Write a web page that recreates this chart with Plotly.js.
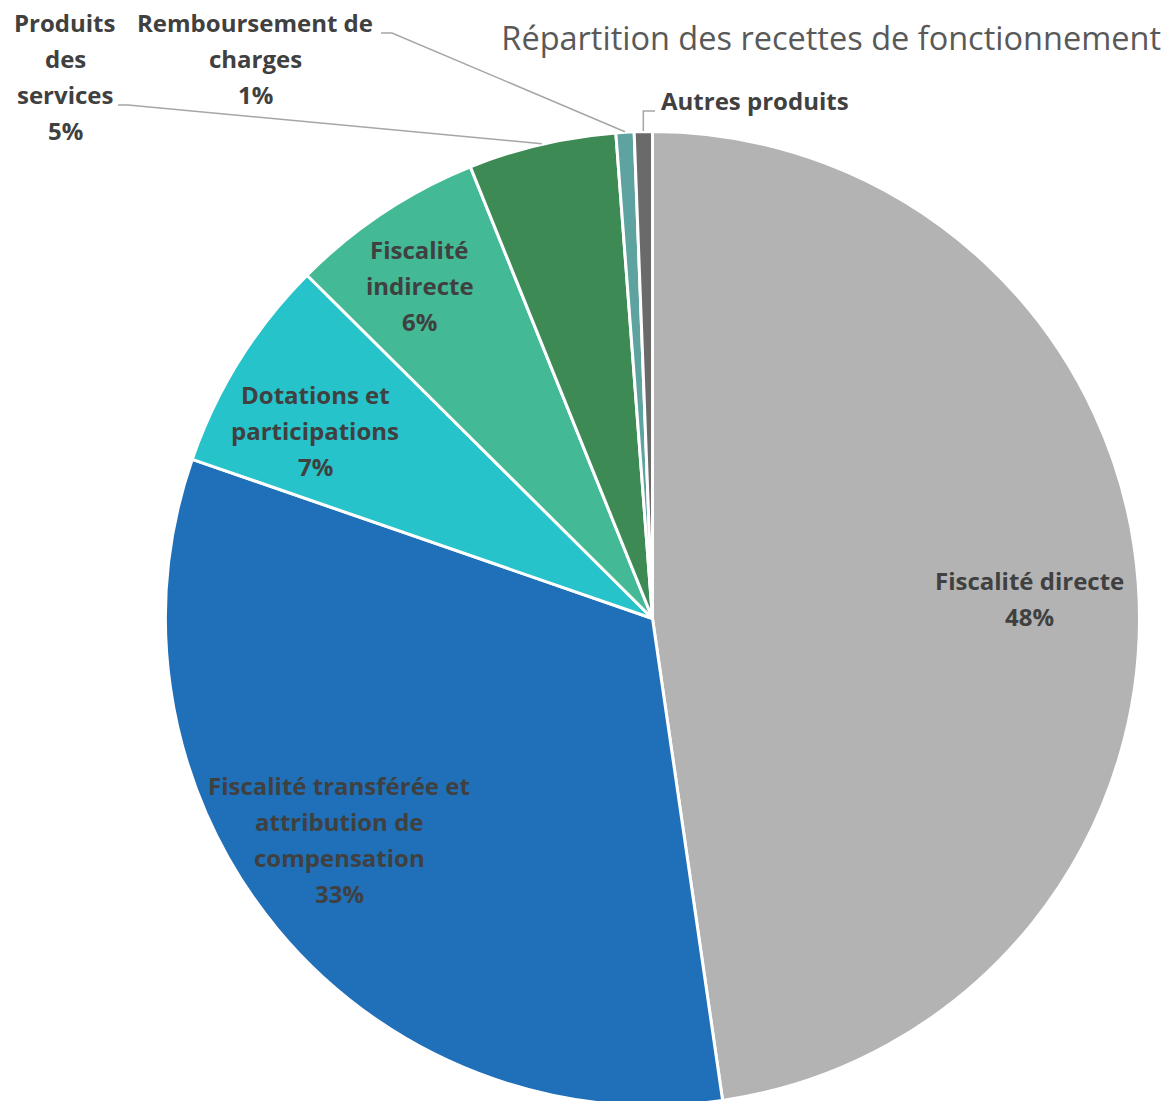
<!DOCTYPE html>
<html>
<head>
<meta charset="utf-8">
<script src="https://cdn.plot.ly/plotly-3.0.1.min.js"></script>
<style>
html,body{margin:0;padding:0;background:#fff;overflow:hidden;}
#wrap{width:1171px;height:1101px;overflow:hidden;}
#chart{width:1171px;height:1106px;}
</style>
</head>
<body>
<div id="wrap"><div id="chart"></div></div>
<script>
// ---- data ----
const categories = [
  "Fiscalité directe",
  "Fiscalité transférée et attribution de compensation",
  "Dotations et participations",
  "Fiscalité indirecte",
  "Produits des services",
  "Remboursement de charges",
  "Autres produits"
];
const values = [47.7, 32.6, 7.15, 6.45, 4.9, 0.6, 0.6];
const labelLines = [
  ["Fiscalité directe"],
  ["Fiscalité transférée et", "attribution de", "compensation"],
  ["Dotations et", "participations"],
  ["Fiscalité", "indirecte"],
  ["Produits", "des", "services"],
  ["Remboursement de", "charges"],
  ["Autres produits"]
];
const showPercent = [true, true, true, true, true, true, false];
const colors = ["#b3b3b3", "#1f70b8", "#26c3ca", "#43b995", "#3d8a55", "#5fa3a0", "#6a6a6a"];
const chartTitle = "Répartition des recettes de fonctionnement";

// ---- layout config ----
const W = 1171, H = 1106;
const domX = [165.5 / W, 1139.5 / W];
const domY = [0, 1 - 131 / H];
const cx = W * (domX[0] + domX[1]) / 2;
const r = Math.min(W * (domX[1] - domX[0]), H * (domY[1] - domY[0])) / 2;
const cy = H * (1 - domY[1]) + r;
const insideFrac = 0.79;
const lineGap = 36;
const textShiftY = -1.5;
// small text nudges (px) for inside labels, Excel-like placement
const insideNudge = {0: [-7, 10], 1: [-17, -22], 2: [-11, 18], 3: [-20, -10]};
const labelFont = {family: "'Open Sans', Lato, sans-serif", size: 24, color: "#404040", weight: "bold"};
// outside labels: anchor (pixel) for the text block and leader-line start
const outside = {
  4: {x: 65, y: 24, align: "center", lead: [[118, 105], [128, 105]]},
  5: {x: 255, y: 24, align: "center", lead: [[381, 33], [392, 33]]},
  6: {x: 659, y: 102, align: "left", lead: [[655, 111], null]}
};

const total = values.reduce((a, b) => a + b, 0);
const px2x = p => p / W;
const py2y = p => 1 - p / H;

const annotations = [];
const shapes = [];
let cum = 0;
values.forEach((v, i) => {
  const midDeg = (cum + v / 2) / total * 360;
  cum += v;
  const th = midDeg * Math.PI / 180;
  const lines = labelLines[i].slice();
  if (showPercent[i]) lines.push(Math.round(v / total * 100) + "%");
  const o = outside[i];
  if (o) {
    lines.forEach((t, k) => {
      annotations.push({xref: "paper", yref: "paper", x: px2x(o.x), y: py2y(o.y + k * lineGap + textShiftY),
        text: "<b>" + t + "</b>", showarrow: false, xanchor: o.align, yanchor: "middle", font: labelFont});
    });
    const ex = cx + r * Math.sin(th), ey = cy - r * Math.cos(th);
    const p0 = o.lead[0];
    const p1 = o.lead[1] || [ex, p0[1]];
    const path = "M " + px2x(p0[0]) + "," + py2y(p0[1]) + " L " + px2x(p1[0]) + "," + py2y(p1[1]) +
                 " L " + px2x(ex) + "," + py2y(ey);
    shapes.push({type: "path", xref: "paper", yref: "paper", path: path, line: {color: "#a6a6a6", width: 1.5}});
  } else {
    const nd = insideNudge[i] || [0, 0];
    const bx = cx + insideFrac * r * Math.sin(th) + nd[0];
    const by = cy - insideFrac * r * Math.cos(th) + nd[1] + textShiftY;
    const n = lines.length;
    lines.forEach((t, k) => {
      annotations.push({xref: "paper", yref: "paper", x: px2x(bx), y: py2y(by + (k - (n - 1) / 2) * lineGap),
        text: "<b>" + t + "</b>", showarrow: false, xanchor: "center", yanchor: "middle", font: labelFont});
    });
  }
});

const trace = {
  type: "pie",
  labels: categories,
  values: values,
  sort: false,
  direction: "clockwise",
  rotation: 0,
  textinfo: "none",
  hoverinfo: "label+percent",
  marker: {colors: colors, line: {color: "#ffffff", width: 3}},
  domain: {x: domX, y: domY},
  showlegend: false
};

const layout = {
  width: W, height: H,
  margin: {l: 0, r: 0, t: 0, b: 0},
  paper_bgcolor: "#ffffff",
  showlegend: false,
  title: {text: chartTitle, x: 1161 / W, xanchor: "right", xref: "paper",
          y: py2y(39), yanchor: "middle", yref: "paper",
          font: {family: "'Open Sans', Lato, sans-serif", size: 32.5, color: "#595959"}},
  annotations: annotations,
  shapes: shapes
};

Plotly.newPlot("chart", [trace], layout, {displayModeBar: false, staticPlot: true});
</script>
</body>
</html>
